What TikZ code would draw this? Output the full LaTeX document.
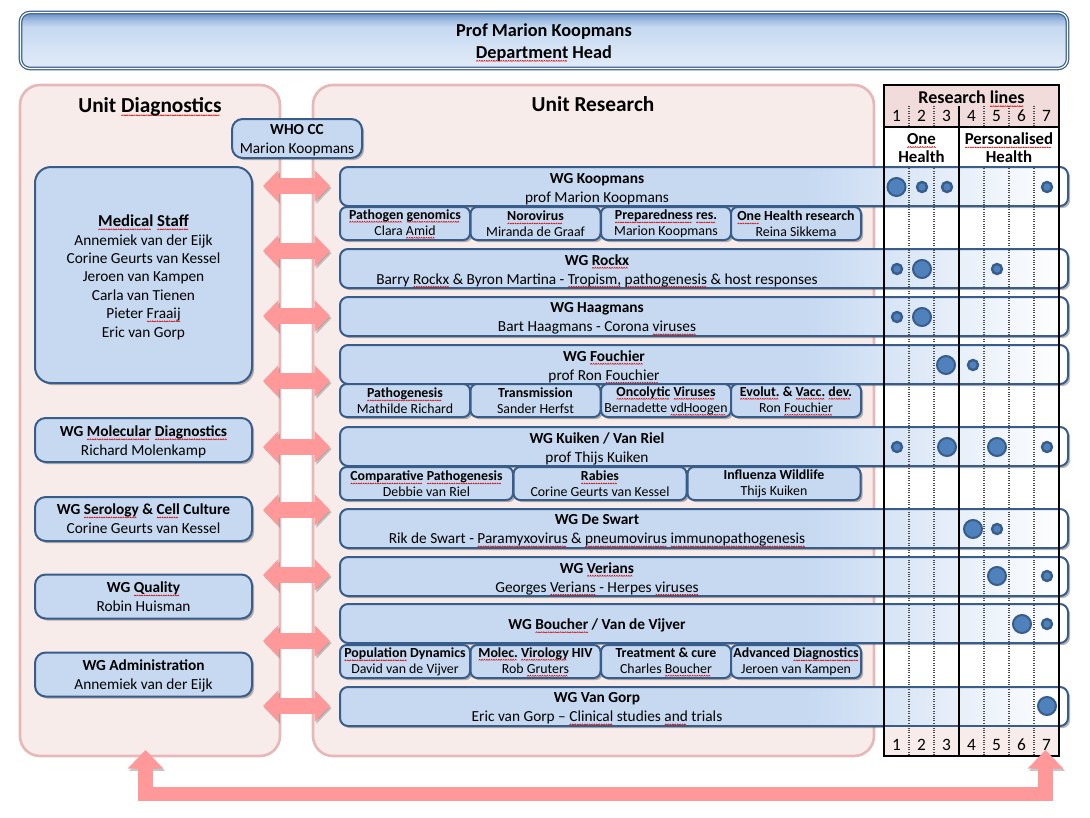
\documentclass[tikz,border=0pt]{standalone}
\usepackage{fontspec}
\setmainfont{Carlito}
\usetikzlibrary{arrows.meta,calc,shadows}
\definecolor{wgblue}{HTML}{C6D9F1}
\definecolor{wgline}{HTML}{385D8A}
\definecolor{unitfill}{HTML}{F8ECEA}
\definecolor{unitline}{HTML}{E6B8B7}
\definecolor{headpink}{HTML}{F2DCDB}
\definecolor{linkpink}{HTML}{FF9999}
\definecolor{dotfill}{HTML}{4F81BD}
\pgfdeclarehorizontalshading{wgfade}{100bp}{color(0bp)=(wgblue); color(57bp)=(wgblue); color(75bp)=(white); color(100bp)=(white)}
\pgfdeclareverticalshading{topfade}{100bp}{color(0bp)=(white!80!wgblue); color(25bp)=(white!50!wgblue); color(62bp)=(wgblue); color(68bp)=(wgblue!70!dotfill); color(75bp)=(dotfill!90!white); color(100bp)=(dotfill)}
\newsavebox\wavebox
\AtBeginDocument{\sbox\wavebox{\begin{pgfpicture}\pgfsetstrokecolor{red!85!black}\pgfsetlinewidth{0.4pt}\pgfpathmoveto{\pgfpoint{0pt}{0pt}}\pgfpathlineto{\pgfpoint{0.7pt}{0.8pt}}\pgfpathlineto{\pgfpoint{1.4pt}{0pt}}\pgfusepath{stroke}\end{pgfpicture}}}
\newcommand\sq[1]{\leavevmode\setbox0\hbox{#1}\rlap{\raisebox{-2.6pt}{\hbox to\wd0{\leaders\copy\wavebox\hfill}}}\box0\relax}
\tikzset{
	pxsize/.style 2 args={minimum width=#1*0.75pt, minimum height=#2*0.75pt, inner sep=0pt},
	softshadow/.style={drop shadow={shadow xshift=1.6pt, shadow yshift=-1.6pt, opacity=0.4, fill=black!70}},
	unitbox/.style={draw=unitline, fill=unitfill, line width=2pt, rounded corners=15pt},
	unittitle/.style={font=\fontsize{16}{19}\selectfont\bfseries},
	topbox/.style={draw=wgline, line width=0.9pt, double=white, double distance=0.9pt, rounded corners=7pt, shading=topfade},
	toptext/.style={align=center, inner sep=0pt, yshift=-1.5pt, font=\fontsize{13.7}{16.5}\selectfont\bfseries},
	staffbox/.style={draw=wgline, line width=1.5pt, fill=wgblue, rounded corners=8pt, softshadow},
	stafftext/.style={align=center, inner sep=0pt, yshift=-1.5pt, font=\fontsize{11.5}{14.2}\selectfont},
	medtext/.style={stafftext, yshift=-0.2pt, font=\fontsize{11.5}{13.8}\selectfont},
	wgbar/.style={draw=wgline, line width=1.5pt, shading=wgfade, rounded corners=6pt, softshadow},
	wgtext/.style={align=center, inner sep=0pt, font=\fontsize{11.5}{14.2}\selectfont},
	subbox/.style={draw=wgline, line width=1.5pt, fill=wgblue, rounded corners=5pt, softshadow},
	subtext/.style={align=center, inner sep=0pt, yshift=-0.4pt, font=\fontsize{10.4}{12}\selectfont},
	link/.style={draw=linkpink, preaction={draw=black!55, opacity=0.4, transform canvas={shift={(1.2pt,-1.6pt)}}}},
	twohead/.style={link, line width=12pt, {Triangle[length=11.5pt,width=23pt]}-{Triangle[length=11.5pt,width=23pt]}},
	gridline/.style={draw=black, line width=0.8pt},
	dotline/.style={draw=black!70, line width=0.8pt, densely dotted},
	numtext/.style={inner sep=0pt, font=\fontsize{13}{15}\selectfont},
	linetext/.style={inner sep=0pt, align=center, font=\fontsize{12.6}{13.5}\selectfont\bfseries},
	bigdot/.style={draw=wgline, fill=dotfill, line width=1.5pt},
	smalldot/.style={draw=wgline, fill=dotfill, line width=1.8pt}
}
\def\linkarrow(#1)#2{\coordinate (#1l) at (263,#2); \coordinate (#1r) at (330,#2); \draw[twohead] (#1l) -- (#1r);}
\def\wgrow(#1)(#2:#3)#4{\node[wgbar, pxsize={728}{39}] (#1) at (704,#2) {}; \node[wgtext] (#1text) at (#3,#2+2.5) {#4};}
\def\subrow(#1)(#2,#3:#4)#5{\node[subbox, pxsize={#4}{33}] (#1) at (#2,#3) {}; \node[subtext] (#1text) at (#2,#3) {#5};}
\begin{document}
\begin{tikzpicture}[x=0.75pt,y=-0.75pt]
	%%%%% START %%%%%
	\useasboundingbox (0,0) rectangle (1090,818);
	
	\node[topbox, pxsize={1047}{56}] (head) at (544,40.5) {};
	\node[toptext] (headtext) at (544,40.5) {Prof Marion Koopmans\\\sq{Department} Head};
	
	\node[unitbox, pxsize={260}{671}] (diag) at (150,420.5) {};
	\node[unitbox, pxsize={561}{671}] (research) at (593.5,420.5) {};
	\node[unittitle] (diagtitle) at (150,107) {Unit \sq{Diagnostics}};
	\node[unittitle] (researchtitle) at (593,104) {Unit Research};
	
	\linkarrow(a1){186}
	\linkarrow(a2){251}
	\linkarrow(a3){316}
	\linkarrow(a4){381}
	\linkarrow(a5){447}
	\linkarrow(a6){510}
	\linkarrow(a7){575}
	\linkarrow(a8){641}
	\linkarrow(a9){706}
	
	\node[staffbox, pxsize={130}{39}] (who) at (297,138.5) {};
	\node[stafftext] (whotext) at (297,138.5) {\textbf{WHO CC}\\Marion Koopmans};
	
	\node[staffbox, pxsize={217}{216}, rounded corners=12pt] (medical) at (143.5,275) {};
	\node[medtext] (medicaltext) at (143.5,275) {{\fontsize{12.5}{13.8}\selectfont\bfseries\sq{Medical} \sq{Staff}}\\Annemiek van der Eijk\\Corine Geurts van Kessel\\Jeroen van Kampen\\Carla van Tienen\\Pieter \sq{Fraaij}\\Eric van Gorp};
	
	\node[staffbox, pxsize={217}{44}] (molecular) at (143.5,440) {};
	\node[stafftext] (moleculartext) at (143.5,440) {\textbf{WG \sq{Molecular} \sq{Diagnostics}}\\Richard Molenkamp};
	\node[staffbox, pxsize={217}{44}] (serology) at (143.5,519) {};
	\node[stafftext] (serologytext) at (143.5,517) {\textbf{WG \sq{Serology} \& \sq{Cell} Culture}\\Corine Geurts van Kessel};
	\node[staffbox, pxsize={217}{44}] (quality) at (143.5,596.5) {};
	\node[stafftext] (qualitytext) at (143.5,595) {\textbf{WG \sq{Quality}}\\Robin Huisman};
	\node[staffbox, pxsize={217}{44}] (admin) at (143.5,674.5) {};
	\node[stafftext] (admintext) at (143.5,673.5) {\textbf{WG Administration}\\Annemiek van der Eijk};
	
	\wgrow(koopmans)(186.5:597){\textbf{WG Koopmans}\\prof Marion Koopmans}
	\wgrow(rockx)(268.5:597){\textbf{WG \sq{Rockx}}\\Barry \sq{Rockx} \& Byron Martina - \sq{Tropism,} \sq{pathogenesis} \& host responses}
	\wgrow(haagmans)(316.5:597){\textbf{WG Haagmans}\\Bart Haagmans - Corona \sq{viruses}}
	\wgrow(fouchier)(364.5:604){\textbf{WG \sq{Fouchier}}\\prof Ron \sq{Fouchier}}
	\wgrow(kuiken)(446.5:597){\textbf{WG Kuiken / Van Riel}\\prof Thijs Kuiken}
	\wgrow(deswart)(528.5:597){\textbf{WG De Swart}\\Rik de Swart - \sq{Paramyxovirus} \& \sq{pneumovirus} \sq{immunopathogenesis}}
	\wgrow(verians)(576.5:597){\textbf{WG \sq{Verians}}\\Georges \sq{Verians} - Herpes \sq{viruses}}
	\wgrow(boucher)(623.5:597){\textbf{WG \sq{Boucher} / Van de Vijver}}
	\wgrow(gorp)(706.5:597){\textbf{WG Van Gorp}\\Eric van Gorp -- \sq{Clinical} studies \sq{and} trials}
	
	\subrow(genomics)(405,223.5:130){\textbf{\sq{Pathogen} \sq{genomics}}\\Clara \sq{Amid}}
	\subrow(norovirus)(535.5,223.5:130){\textbf{\sq{Norovirus}}\\Miranda de Graaf}
	\subrow(prepared)(666,223.5:130){\textbf{\sq{Preparedness} \sq{res.}}\\Marion Koopmans}
	\subrow(onehealth)(796,223.5:130){\textbf{\sq{One} Health research}\\Reina Sikkema}
	
	\subrow(pathogenesis)(405,400.5:130){\textbf{\sq{Pathogenesis}}\\Mathilde Richard}
	\subrow(transmission)(535.5,400.5:130){\textbf{Transmission}\\Sander Herfst}
	\subrow(oncolytic)(666,400.5:130){\textbf{\sq{Oncolytic} \sq{Viruses}}\\Bernadette \sq{vdHoogen}}
	\subrow(evolut)(796,400.5:130){\textbf{\sq{Evolut.} \& \sq{Vacc.} \sq{dev.}}\\Ron \sq{Fouchier}}
	
	\subrow(comparative)(426.5,483.5:173){\textbf{\sq{Comparative} \sq{Pathogenesis}}\\Debbie van Riel}
	\subrow(rabies)(600,483.5:173){\textbf{\sq{Rabies}}\\Corine Geurts van Kessel}
	\subrow(wildlife)(774,483.5:173){\textbf{Influenza Wildlife}\\Thijs Kuiken}
	
	\subrow(population)(405,661.5:130){\textbf{\sq{Population} Dynamics}\\David van de Vijver}
	\subrow(virology)(535.5,661.5:130){\textbf{\sq{Molec.} \sq{Virology} HIV}\\Rob \sq{Gruters}}
	\subrow(treatment)(666,661.5:130){\textbf{Treatment \& cure}\\Charles \sq{Boucher}}
	\subrow(advanced)(796,661.5:130){\textbf{Advanced \sq{Diagnostics}}\\Jeroen van Kampen}
	
	\fill[headpink] (884,85) rectangle (1059,127);
	\fill[unitfill] (884,727) rectangle (1059,756);
	\draw[dotline] (909,106) -- (909,127) (909,166) -- (909,756);
	\draw[dotline] (934,106) -- (934,127) (934,166) -- (934,756);
	\draw[dotline] (984,106) -- (984,127) (984,166) -- (984,756);
	\draw[dotline] (1009,106) -- (1009,127) (1009,166) -- (1009,756);
	\draw[dotline] (1034,106) -- (1034,127) (1034,166) -- (1034,756);
	\draw[gridline] (959,106) -- (959,756);
	\draw[gridline] (884,127) -- (1059,127);
	\draw[gridline, line width=1.1pt] (884,85) rectangle (1059,756);
	
	\node[linetext, font=\fontsize{13.5}{15}\selectfont\bfseries] (lines) at (971.5,99) {Research \sq{lines}};
	\node[linetext] (onetext) at (921.5,148) {\sq{One}\\Health};
	\node[linetext] (perstext) at (1009,148) {\sq{Personalised}\\Health};
	
	\node[numtext] (t1) at (896.5,116) {1};
	\node[numtext] (t2) at (921.5,116) {2};
	\node[numtext] (t3) at (946.5,116) {3};
	\node[numtext] (t4) at (971.5,116) {4};
	\node[numtext] (t5) at (996.5,116) {5};
	\node[numtext] (t6) at (1021.5,116) {6};
	\node[numtext] (t7) at (1046.5,116) {7};
	\node[numtext] (b1) at (896.5,745) {1};
	\node[numtext] (b2) at (921.5,745) {2};
	\node[numtext] (b3) at (946.5,745) {3};
	\node[numtext] (b4) at (971.5,745) {4};
	\node[numtext] (b5) at (996.5,745) {5};
	\node[numtext] (b6) at (1021.5,745) {6};
	\node[numtext] (b7) at (1046.5,745) {7};
	
	\draw[bigdot] (896.5,187) circle (9);
	\draw[smalldot] (922,187) circle (5);
	\draw[smalldot] (947,187) circle (5);
	\draw[smalldot] (1047,187) circle (5);
	
	\draw[smalldot] (897,269) circle (5);
	\draw[bigdot] (922,269) circle (9);
	\draw[smalldot] (997,269) circle (5);
	
	\draw[smalldot] (897,317) circle (5);
	\draw[bigdot] (922,317) circle (9);
	
	\draw[bigdot] (946,365) circle (9);
	\draw[smalldot] (973,365) circle (5);
	
	\draw[smalldot] (897,447) circle (5);
	\draw[bigdot] (947,447) circle (9);
	\draw[bigdot] (997,447) circle (9);
	\draw[smalldot] (1047,447) circle (5);
	
	\draw[bigdot] (973,529) circle (9);
	\draw[smalldot] (997,529) circle (5);
	
	\draw[bigdot] (997,576) circle (9);
	\draw[smalldot] (1047,576) circle (5);
	
	\draw[bigdot] (1022,624) circle (9);
	\draw[smalldot] (1047,624) circle (5);
	
	\draw[bigdot] (1047,706) circle (9);
	
	\coordinate (backl) at (145.5,750);
	\coordinate (backr) at (1045.5,750);
	\coordinate (backm) at (600,794);
	\draw[link, line width=11pt, {Triangle[length=14pt,width=26pt]}-{Triangle[length=14pt,width=26pt]}] (backl) |- (backm) -| (backr);
	
	%%%%% END %%%%%
\end{tikzpicture}
\end{document}
